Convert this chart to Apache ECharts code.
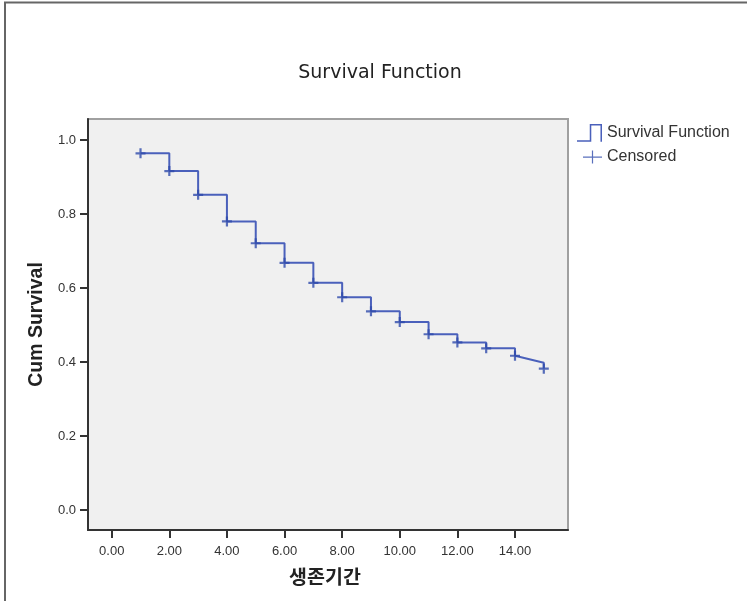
<!DOCTYPE html>
<html>
<head>
<meta charset="utf-8">
<script src="https://cdn.jsdelivr.net/npm/echarts@6/dist/echarts.min.js"></script>
<style>html,body{margin:0;padding:0;background:#fff}#chart{width:747px;height:601px}</style>
</head>
<body>
<div id="chart"></div>
<script>
// ---- data ----
var times = [1, 2, 3, 4, 5, 6, 7, 8, 9, 10, 11, 12, 13, 14, 15];
var survival = [0.964, 0.916, 0.852, 0.780, 0.721, 0.668, 0.614, 0.575, 0.537, 0.508, 0.475, 0.453, 0.437, 0.417, 0.382];
var lastSegmentEnd = 0.398; // level the final (sloped) segment reaches at t=15 before the drop
var xTicks = [0, 2, 4, 6, 8, 10, 12, 14];
var yTicks = [0, 0.2, 0.4, 0.6, 0.8, 1.0];

// build step path from the arrays
var stepData = [[times[0], survival[0]]];
for (var i = 1; i < times.length; i++) {
  if (i === times.length - 1) {
    stepData.push([times[i], lastSegmentEnd]);
  } else {
    stepData.push([times[i], survival[i - 1]]);
  }
  stepData.push([times[i], survival[i]]);
}
var censoredData = times.map(function (t, i) { return [t, survival[i]]; });

var plusPath = 'path://M3.9,0 L6.1,0 L6.1,3.9 L10,3.9 L10,6.1 L6.1,6.1 L6.1,10 L3.9,10 L3.9,6.1 L0,6.1 L0,3.9 L3.9,3.9 Z';
var stepIcon = 'path://M0,16.5 L12.5,16.5 L12.5,0.5 L24.5,0.5 L24.5,18 L23,18 L23,2 L14,2 L14,18 L0,18 Z';
var plusIcon = 'path://M0,6 L19,6 L19,7.2 L0,7.2 Z M8.9,0 L10.1,0 L10.1,13 L8.9,13 Z';

var chart = echarts.init(document.getElementById('chart'), null, {renderer: 'canvas'});
var font = 'Liberation Sans, Arial, sans-serif';
chart.setOption({
  animation: false,
  backgroundColor: '#ffffff',
  title: {
    text: 'Survival Function',
    left: 375, top: 59, textAlign: 'center',
    textStyle: {fontFamily: 'DejaVu Sans', fontSize: 19, fontWeight: 'normal', color: '#222'}
  },
  legend: [{
    data: [{name: 'Survival Function', icon: stepIcon}],
    orient: 'vertical', left: 577, top: 124, padding: 0,
    itemWidth: 25, itemHeight: 18,
    textStyle: {fontFamily: font, fontSize: 16, color: '#333'}
  }, {
    data: [{name: 'Censored', icon: plusIcon}],
    orient: 'vertical', left: 583, top: 149, padding: 0,
    itemWidth: 19, itemHeight: 13,
    textStyle: {fontFamily: font, fontSize: 16, color: '#333'}
  }],
  grid: {
    left: 88, top: 119, width: 480, height: 411,
    show: true, backgroundColor: '#f0f0f0', borderColor: '#a0a0a0', borderWidth: 2
  },
  xAxis: {
    type: 'value', min: -0.823, max: 15.84,
    name: '생존기간', nameLocation: 'middle', nameGap: 37,
    nameTextStyle: {fontFamily: 'Noto Sans CJK KR', fontSize: 19.5, fontWeight: 'bold', color: '#222', padding: [0, 6, 0, 0]},
    axisLine: {onZero: false, lineStyle: {color: '#333', width: 2}},
    axisTick: {show: true, length: 8, customValues: xTicks, lineStyle: {color: '#333', width: 2}},
    axisLabel: {customValues: xTicks, margin: 15, fontFamily: font, fontSize: 13, color: '#333',
      formatter: function (v) { return v.toFixed(2); }},
    splitLine: {show: false}
  },
  yAxis: {
    type: 'value', min: -0.054, max: 1.0568,
    name: 'Cum Survival', nameLocation: 'middle', nameGap: 41,
    nameTextStyle: {fontFamily: font, fontSize: 19.5, fontWeight: 'bold', color: '#222'},
    axisLine: {onZero: false, lineStyle: {color: '#333', width: 2}},
    axisTick: {show: true, length: 8, customValues: yTicks, lineStyle: {color: '#333', width: 2}},
    axisLabel: {customValues: yTicks, margin: 12, fontFamily: font, fontSize: 13, color: '#333',
      formatter: function (v) { return v.toFixed(1); }},
    splitLine: {show: false}
  },
  series: [{
    name: 'Survival Function', type: 'line', data: stepData,
    showSymbol: false, symbol: 'none', color: '#4a60bb',
    lineStyle: {color: '#4a60bb', width: 2}, z: 2
  }, {
    name: 'Censored', type: 'scatter', data: censoredData,
    symbol: plusPath, symbolSize: 10, color: '#2f4bab',
    itemStyle: {color: '#2f4bab'}, z: 3
  }],
  graphic: [{
    type: 'polyline', silent: true,
    shape: {points: [[5, 601], [5, 2.5], [747, 2.5]]},
    style: {stroke: '#666', lineWidth: 2, fill: null}
  }]
});
</script>
</body>
</html>
